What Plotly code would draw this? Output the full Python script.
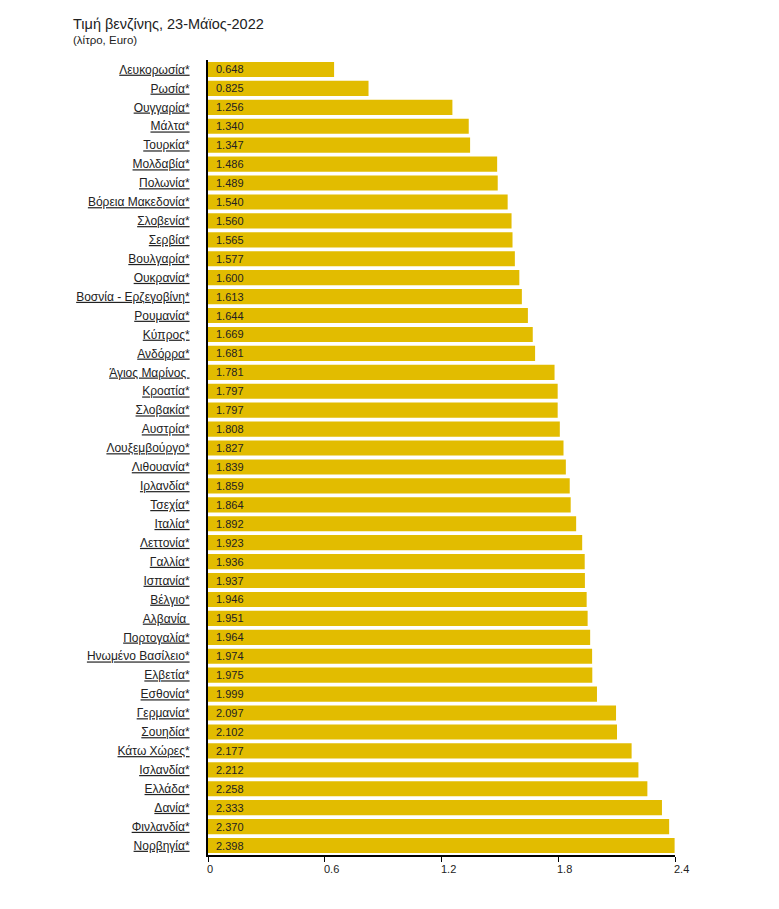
import plotly.graph_objects as go

countries = ["Λευκορωσία*", "Ρωσία*", "Ουγγαρία*", "Μάλτα*", "Τουρκία*", "Μολδαβία*", "Πολωνία*",
             "Βόρεια Μακεδονία*", "Σλοβενία*", "Σερβία*", "Βουλγαρία*", "Ουκρανία*",
             "Βοσνία - Ερζεγοβίνη*", "Ρουμανία*", "Κύπρος*", "Ανδόρρα*", "Άγιος Μαρίνος ",
             "Κροατία*", "Σλοβακία*", "Αυστρία*", "Λουξεμβούργο*", "Λιθουανία*", "Ιρλανδία*",
             "Τσεχία*", "Ιταλία*", "Λεττονία*", "Γαλλία*", "Ισπανία*", "Βέλγιο*", "Αλβανία ",
             "Πορτογαλία*", "Ηνωμένο Βασίλειο*", "Ελβετία*", "Εσθονία*", "Γερμανία*", "Σουηδία*",
             "Κάτω Χώρες*", "Ισλανδία*", "Ελλάδα*", "Δανία*", "Φινλανδία*", "Νορβηγία*"]
prices = [0.648, 0.825, 1.256, 1.340, 1.347, 1.486, 1.489, 1.540, 1.560, 1.565, 1.577, 1.600,
          1.613, 1.644, 1.669, 1.681, 1.781, 1.797, 1.797, 1.808, 1.827, 1.839, 1.859, 1.864,
          1.892, 1.923, 1.936, 1.937, 1.946, 1.951, 1.964, 1.974, 1.975, 1.999, 2.097, 2.102,
          2.177, 2.212, 2.258, 2.333, 2.370, 2.398]
x_ticks = [0, 0.6, 1.2, 1.8, 2.4]
x_tick_labels = ["0", "0.6", "1.2", "1.8", "2.4"]

title = "Τιμή βενζίνης, 23-Μάϊος-2022"
subtitle = "(λίτρο, Euro)"

FONT = "Liberation Sans, Arial, sans-serif"

fig = go.Figure()
fig.add_trace(go.Bar(
    x=prices, y=countries, orientation="h",
    marker=dict(color="#E2BC00", line=dict(width=0)),
    hoverinfo="x+y",
))

annotations = []
for c, p in zip(countries, prices):
    annotations.append(dict(x=0, y=c, xref="x", yref="y", text=f"{p:.3f}",
                            showarrow=False, xanchor="left", xshift=6,
                            font=dict(family=FONT, size=11, color="#222222")))
for v, t in zip(x_ticks, x_tick_labels):
    annotations.append(dict(x=v, y=0, xref="x", yref="paper", text=t, showarrow=False,
                            xanchor="left", yanchor="top", xshift=-3, yshift=-6,
                            font=dict(family=FONT, size=11, color="#222222")))
annotations.append(dict(x=0, y=1, xref="paper", yref="paper", text=title, showarrow=False,
                        xanchor="left", yanchor="middle", xshift=-137, yshift=36,
                        font=dict(family=FONT, size=14.5, color="#222222")))
annotations.append(dict(x=0, y=1, xref="paper", yref="paper", text=subtitle, showarrow=False,
                        xanchor="left", yanchor="middle", xshift=-137, yshift=20,
                        font=dict(family=FONT, size=11.5, color="#222222")))

fig.update_layout(
    width=779, height=909,
    margin=dict(l=200, r=112, t=52, b=62),
    paper_bgcolor="white", plot_bgcolor="white",
    bargap=0.2,
    showlegend=False,
    annotations=annotations,
    font=dict(family=FONT, size=12, color="#222222"),
    xaxis=dict(range=[0, 2.4], tickvals=x_ticks, showticklabels=False, ticks="outside",
               ticklen=5, tickcolor="black", tickwidth=1, showgrid=False, zeroline=False,
               showline=True, linecolor="black", linewidth=2, fixedrange=True),
    yaxis=dict(autorange="reversed", type="category", showgrid=False, zeroline=False,
               showline=True, linecolor="black", linewidth=2, ticks="",
               tickvals=countries, ticktext=[f"<u>{c}</u>" for c in countries],
               ticklabelstandoff=14,
               tickfont=dict(family=FONT, size=12, color="#222222"), fixedrange=True),
)

fig.write_html("out.html")
